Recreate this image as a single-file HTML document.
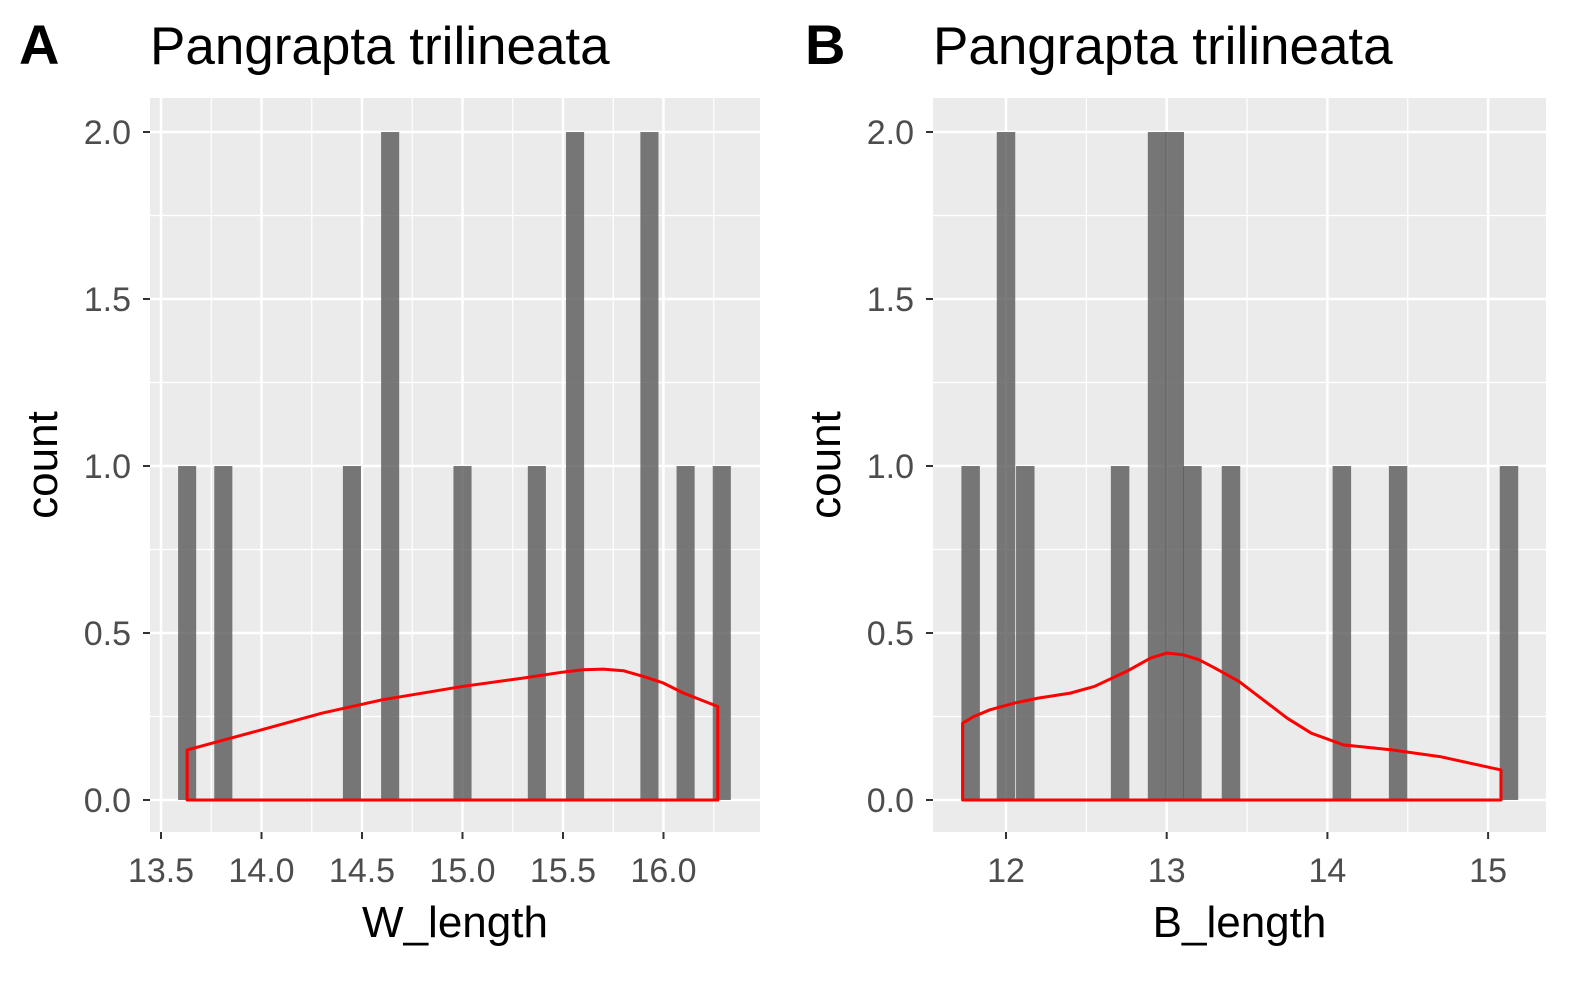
<!DOCTYPE html>
<html><head><meta charset="utf-8"><style>
body{margin:0;background:#fff;}
svg{display:block;font-family:"Liberation Sans",Arial,sans-serif;}
</style></head><body>
<svg id="chart" width="1593" height="984"></svg>
<script>
// Panel A data
const aBinsX = [13.63,13.81,14.45,14.64,15.0,15.37,15.56,15.93,16.11,16.29];
const aCounts = [1,1,1,2,1,1,2,2,1,1];
const aDensX = [13.63,14.0,14.3,14.6,15.0,15.3,15.5,15.6,15.7,15.8,15.9,16.0,16.1,16.27];
const aDensY = [0.15,0.21,0.26,0.30,0.34,0.365,0.383,0.39,0.392,0.387,0.37,0.35,0.32,0.28];
const aTicksX = ["13.5","14.0","14.5","15.0","15.5","16.0"];
// Panel B data
const bBinsX = [11.78,12.0,12.12,12.71,12.94,13.05,13.16,13.40,14.09,14.44,15.13];
const bCounts = [1,2,1,1,2,2,1,1,1,1,1];
const bDensX = [11.73,11.8,11.9,12.05,12.2,12.4,12.55,12.75,12.9,13.0,13.1,13.2,13.3,13.45,13.6,13.75,13.9,14.1,14.4,14.7,15.08];
const bDensY = [0.23,0.25,0.27,0.29,0.305,0.32,0.34,0.385,0.425,0.44,0.435,0.42,0.395,0.355,0.3,0.245,0.2,0.165,0.15,0.13,0.09];
const bTicksX = ["12","13","14","15"];
const yTicks = ["0.0","0.5","1.0","1.5","2.0"];

const NS="http://www.w3.org/2000/svg";
const svg=document.getElementById('chart');
function mk(tag,attrs,parent,name){const e=document.createElementNS(NS,tag);for(const k in attrs)e.setAttribute(k,attrs[k]);


(parent||svg).appendChild(e);return e;}

function panel(cfg){
  const g=mk('g',{},svg,cfg.id);
  const L=cfg.left,R=cfg.right,T=98,B=832;
  const x=v=>cfg.x0px+(v-cfg.x0)*cfg.pxPer;
  const y=v=>800-v*334;
  mk('rect',{x:L,y:T,width:R-L,height:B-T,fill:'#EBEBEB'},g,'panel-background');
  for(let v=0.25;v<2.2;v+=0.5) mk('line',{x1:L,x2:R,y1:y(v),y2:y(v),stroke:'#fff','stroke-width':1.2},g,'y-minor-gridline');
  cfg.minor.forEach(v=>mk('line',{x1:x(v),x2:x(v),y1:T,y2:B,stroke:'#fff','stroke-width':1.2},g,'x-minor-gridline'));
  yTicks.forEach(t=>{const v=+t;mk('line',{x1:L,x2:R,y1:y(v),y2:y(v),stroke:'#fff','stroke-width':2.5},g,'y-major-gridline');
    mk('line',{x1:L-7,x2:L,y1:y(v),y2:y(v),stroke:'#333','stroke-width':2},g,'y-tick');
    const tx=mk('text',{x:L-19,y:y(v)+12,'text-anchor':'end','font-size':34,fill:'#4D4D4D'},g,'y-tick-label');tx.textContent=t;});
  cfg.ticks.forEach(t=>{const v=+t;mk('line',{x1:x(v),x2:x(v),y1:T,y2:B,stroke:'#fff','stroke-width':2.5},g,'x-major-gridline');
    mk('line',{x1:x(v),x2:x(v),y1:B,y2:B+7,stroke:'#333','stroke-width':2},g,'x-tick');
    const tx=mk('text',{x:x(v),y:B+50,'text-anchor':'middle','font-size':34,fill:'#4D4D4D'},g,'x-tick-label');tx.textContent=t;});
  cfg.bins.forEach((b,i)=>{mk('rect',{x:x(b-cfg.bw/2),y:y(cfg.counts[i]),width:cfg.bw*cfg.pxPer,height:y(0)-y(cfg.counts[i]),fill:'#595959','fill-opacity':0.8},g,'histogram-bar');});
  let d='M'+x(cfg.dx[0])+','+y(0);
  cfg.dx.forEach((v,i)=>{d+=' L'+x(v)+','+y(cfg.dy[i]);});
  d+=' L'+x(cfg.dx[cfg.dx.length-1])+','+y(0)+' Z';
  mk('path',{d:d,fill:'none',stroke:'#FF0000','stroke-width':3,'stroke-linejoin':'round'},g,'density-curve');
  let t=mk('text',{x:(L+R)/2,y:937,'text-anchor':'middle','font-size':44},g,'x-axis-title');t.textContent=cfg.xlab;
  t=mk('text',{x:0,y:0,'text-anchor':'middle','font-size':44,transform:`translate(${L-93},465) rotate(-90)`},g,'y-axis-title');t.textContent='count';
  t=mk('text',{x:cfg.tagX,y:64,'font-size':56,'font-weight':'bold'},g,'panel-tag');t.textContent=cfg.tag;
  t=mk('text',{x:L,y:64,'font-size':53},g,'panel-title');t.textContent='Pangrapta trilineata';
}
panel({id:'panel-a',left:150,right:760,x0:13.5,x0px:161,pxPer:201,ticks:aTicksX,minor:[13.75,14.25,14.75,15.25,15.75,16.25],
  bins:aBinsX,counts:aCounts,bw:0.09,dx:aDensX,dy:aDensY,xlab:'W_length',tag:'A',tagX:19});
panel({id:'panel-b',left:933,right:1546,x0:12,x0px:1006,pxPer:160.7,ticks:bTicksX,minor:[11.5,12.5,13.5,14.5],
  bins:bBinsX,counts:bCounts,bw:0.115,dx:bDensX,dy:bDensY,xlab:'B_length',tag:'B',tagX:805});
</script>
</body></html>
